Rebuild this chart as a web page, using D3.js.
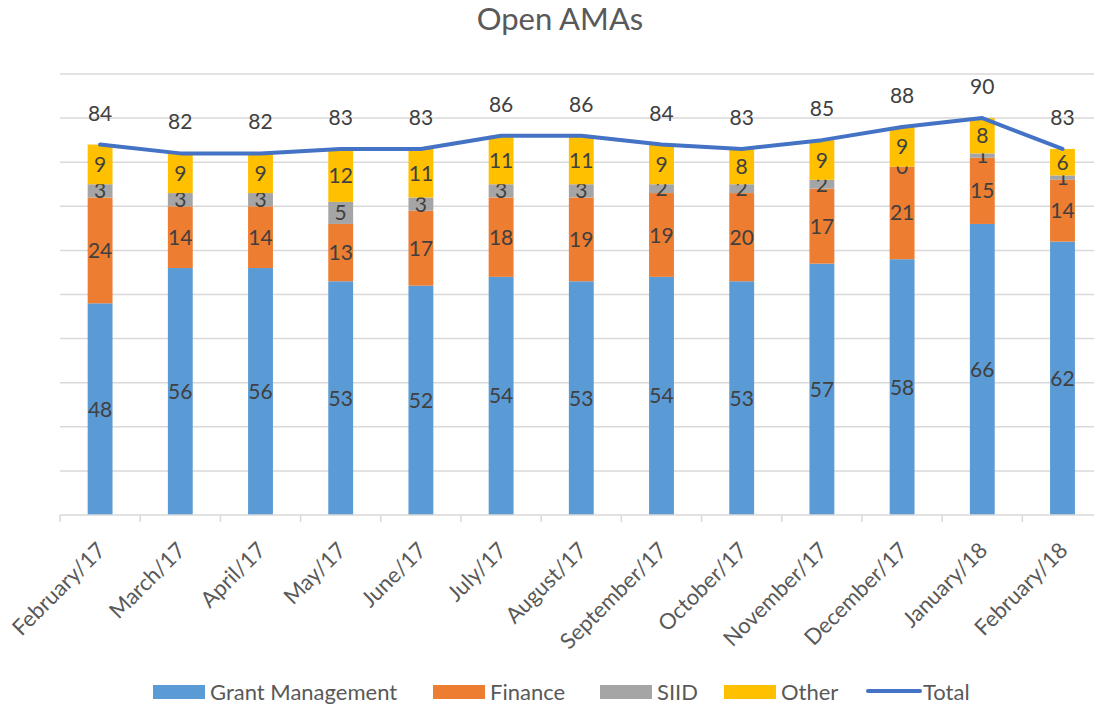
<!DOCTYPE html>
<html lang="en">
<head>
    <meta charset="UTF-8">
    <title>Open AMAs</title>
    <script src="https://d3js.org/d3.v7.min.js"></script>
    <style>
        body { margin: 0; background: #fff; }
        text { font-family: Lato, "Open Sans", sans-serif; fill: #404040; }
    </style>
</head>
<body>
    <div class="chart"></div>
    <script>
        const months = ["February/17", "March/17", "April/17", "May/17", "June/17", "July/17", "August/17",
            "September/17", "October/17", "November/17", "December/17", "January/18", "February/18"];
        const grantManagement = [48, 56, 56, 53, 52, 54, 53, 54, 53, 57, 58, 66, 62];
        const finance = [24, 14, 14, 13, 17, 18, 19, 19, 20, 17, 21, 15, 14];
        const siid = [3, 3, 3, 5, 3, 3, 3, 2, 2, 2, 0, 1, 1];
        const other = [9, 9, 9, 12, 11, 11, 11, 9, 8, 9, 9, 8, 6];
        const total = [84, 82, 82, 83, 83, 86, 86, 84, 83, 85, 88, 90, 83];

        const seriesNames = ["Grant Management", "Finance", "SIID", "Other"];
        const colors = ["#5B9BD5", "#ED7D31", "#A5A5A5", "#FFC000"];
        const lineColor = "#4472C4";

        const width = 1094;
        const height = 704;

        const table = months.map((m, i) => ({
            month: m,
            "Grant Management": grantManagement[i],
            "Finance": finance[i],
            "SIID": siid[i],
            "Other": other[i],
            total: total[i]
        }));

        const stack = d3.stack().keys(seriesNames)(table);

        const x = d3.scaleBand()
            .domain(months)
            .range([60, 60 + 13 * 80.2])
            .paddingInner(0.69)
            .paddingOuter(0.345);

        const y = d3.scaleLinear()
            .domain([0, 100])
            .range([515, 74]);

        const svg = d3.select('.chart')
            .append('svg')
            .attr('width', width)
            .attr('height', height);

        // title
        svg.append('text')
            .attr('x', 560)
            .attr('y', 30)
            .attr('text-anchor', 'middle')
            .style('font-size', '31px')
            .style('fill', '#595959')
            .text('Open AMAs');

        // gridlines
        svg.append('g')
            .selectAll('line')
            .data(y.ticks(10).filter(d => d > 0))
            .join('line')
            .attr('x1', 60)
            .attr('x2', width)
            .attr('y1', d => y(d))
            .attr('y2', d => y(d))
            .attr('stroke', '#D9D9D9')
            .attr('stroke-width', 1.5);

        // bars
        const layers = svg.append('g')
            .selectAll('g')
            .data(stack)
            .join('g')
            .attr('fill', (d, i) => colors[i]);

        layers.selectAll('rect')
            .data(d => d)
            .join('rect')
            .attr('x', d => x(d.data.month))
            .attr('width', x.bandwidth())
            .attr('y', d => y(d[1]))
            .attr('height', d => y(d[0]) - y(d[1]));

        // bar labels
        layers.selectAll('text')
            .data(d => d)
            .join('text')
            .attr('x', d => x(d.data.month) + x.bandwidth() / 2)
            .attr('y', d => (y(d[0]) + y(d[1])) / 2)
            .attr('dy', '0.36em')
            .attr('text-anchor', 'middle')
            .style('font-size', '21px')
            .text(d => d[1] - d[0]);

        // x axis
        const axis = svg.append('g');
        axis.append('line')
            .attr('x1', 60)
            .attr('x2', width)
            .attr('y1', y(0))
            .attr('y2', y(0))
            .attr('stroke', '#D9D9D9')
            .attr('stroke-width', 1.5);

        axis.selectAll('.tick')
            .data(d3.range(months.length + 1))
            .join('line')
            .attr('x1', i => 60 + i * x.step())
            .attr('x2', i => 60 + i * x.step())
            .attr('y1', y(0))
            .attr('y2', y(0) + 7)
            .attr('stroke', '#D9D9D9')
            .attr('stroke-width', 1.5);

        axis.selectAll('text')
            .data(months)
            .join('text')
            .attr('transform', d => `translate(${x(d) + x.bandwidth() / 2 + 1},${y(0) + 31}) rotate(-45)`)
            .attr('text-anchor', 'end')
            .attr('dy', '0.36em')
            .style('font-size', '22px')
            .style('fill', '#595959')
            .text(d => d);

        // total line
        const line = d3.line()
            .x(d => x(d.month) + x.bandwidth() / 2)
            .y(d => y(d.total));

        svg.append('path')
            .datum(table)
            .attr('d', line)
            .attr('fill', 'none')
            .attr('stroke', lineColor)
            .attr('stroke-width', 4)
            .attr('stroke-linecap', 'round')
            .attr('stroke-linejoin', 'round');

        svg.append('g')
            .selectAll('text')
            .data(table)
            .join('text')
            .attr('x', d => x(d.month) + x.bandwidth() / 2)
            .attr('y', d => y(d.total) - 24)
            .attr('text-anchor', 'middle')
            .style('font-size', '21px')
            .text(d => d.total);

        // legend
        const legendItems = [
            { name: "Grant Management", color: colors[0], x: 153 },
            { name: "Finance", color: colors[1], x: 433 },
            { name: "SIID", color: colors[2], x: 600 },
            { name: "Other", color: colors[3], x: 724 },
            { name: "Total", color: lineColor, x: 866, line: true }
        ];

        const legend = svg.append('g');
        legendItems.forEach(item => {
            if (item.line) {
                legend.append('line')
                    .attr('x1', item.x + 2)
                    .attr('x2', item.x + 54)
                    .attr('y1', 691)
                    .attr('y2', 691)
                    .attr('stroke', item.color)
                    .attr('stroke-width', 4)
                    .attr('stroke-linecap', 'round');
            } else {
                legend.append('rect')
                    .attr('x', item.x)
                    .attr('y', 685)
                    .attr('width', 52)
                    .attr('height', 14)
                    .attr('fill', item.color);
            }
            legend.append('text')
                .attr('x', item.x + 57)
                .attr('y', 692)
                .attr('dy', '0.36em')
                .style('font-size', '22px')
                .style('fill', '#595959')
                .text(item.name);
        });
    </script>
</body>
</html>
